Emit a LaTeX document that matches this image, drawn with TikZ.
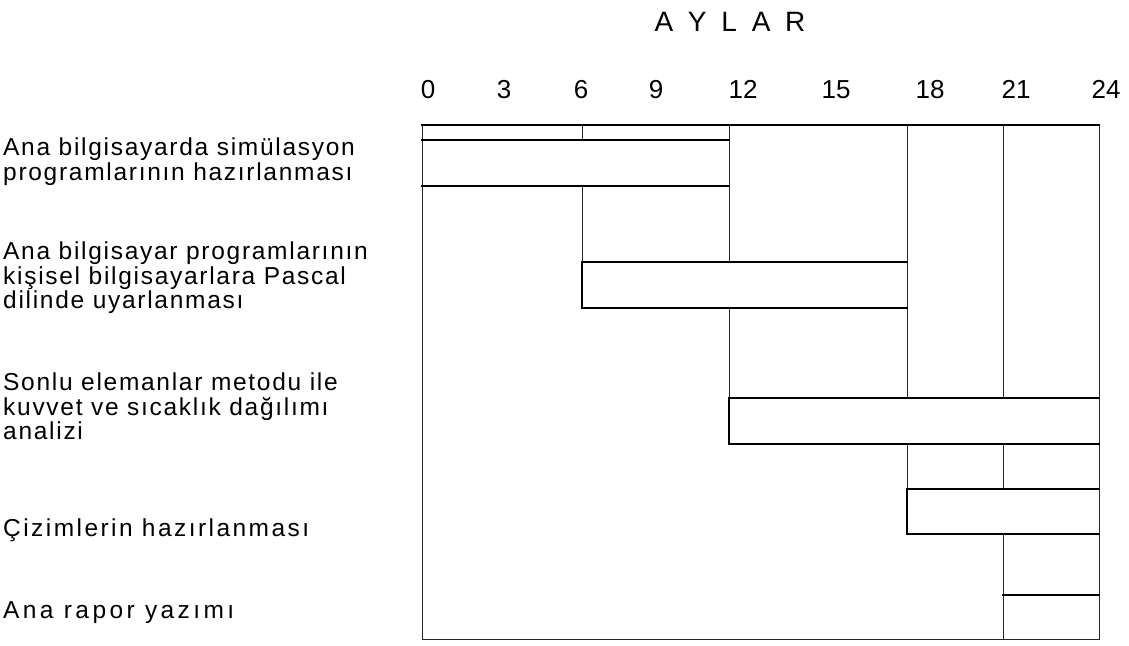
\documentclass[tikz,border=0pt]{standalone}
\usepackage{fontspec}
\setmainfont{Liberation Sans}
\newfontfamily\lblfam[LetterSpace=7]{Liberation Sans}
\newfontfamily\lblwide[LetterSpace=10]{Liberation Sans}
\newfontfamily\lblwider[LetterSpace=14]{Liberation Sans}
\newfontfamily\titlefam[LetterSpace=25]{Liberation Sans}
\begin{document}
\begin{tikzpicture}[x=1pt,y=-1pt,
  gridline/.style={line width=0.9pt, black!85},
  barh/.style={line width=2.2pt, line cap=rect},
  barv/.style={line width=1.1pt},
  lbl/.style={anchor=north west, inner sep=0pt, align=left,
    font=\lblfam\fontsize{24.5}{24.5}\selectfont},
  tick/.style={anchor=base, inner sep=0pt, font=\fontsize{26}{26}\selectfont},
  title/.style={anchor=base, inner sep=0pt, font=\titlefam\fontsize{28}{28}\selectfont}]
\useasboundingbox (0,0) rectangle (1129,645);
% title and month labels
\node[title] (aylar) at (730,31) {A Y L A R};
\foreach \m/\x in {0/428,3/504,6/581,9/656,12/743,15/836,18/930,21/1016,24/1106}
  \node[tick] (t\m) at (\x,98) {\m};
% frame
\coordinate (tl) at (422,125);
\coordinate (tr) at (1099,125);
\coordinate (bl) at (422,639);
\coordinate (br) at (1099,639);
\draw[gridline] (tl) -- (bl) -- (br) -- (tr);
\draw[barh] (tl) -- (tr);
% grid verticals (broken behind bars)
\draw[gridline] (582,125) -- (582,140);
\draw[gridline] (582,186) -- (582,308);
\draw[gridline] (729,125) -- (729,262) (729,308) -- (729,444);
\draw[gridline] (907,125) -- (907,398) (907,444) -- (907,534);
\draw[gridline] (1003,125) -- (1003,398) (1003,444) -- (1003,489) (1003,534) -- (1003,639);
% bars
\draw[barh] (422,140) -- (729,140) (422,186) -- (729,186);
\draw[barh] (582,262) -- (907,262) (582,308) -- (907,308);
\draw[barh] (729,398) -- (1099,398) (729,444) -- (1099,444);
\draw[barh] (907,489) -- (1099,489) (907,534) -- (1099,534);
\draw[barh] (1003,595) -- (1099,595);
\draw[barv] (729,398) -- (729,444) (907,489) -- (907,534) (582,262) -- (582,308);
% labels
\node[lbl] (l1) at (3,138) {Ana bilgisayarda simülasyon\\programlarının hazırlanması};
\node[lbl] (l2) at (3,242) {Ana bilgisayar programlarının\\kişisel bilgisayarlara Pascal\\dilinde uyarlanması};
\node[lbl] (l3) at (3,373) {Sonlu elemanlar metodu ile\\kuvvet ve sıcaklık dağılımı\\analizi};
\node[lbl, font=\lblwide\fontsize{24.5}{24.5}\selectfont] (l4) at (3,519) {Çizimlerin hazırlanması};
\node[lbl, font=\lblwider\fontsize{24.5}{24.5}\selectfont] (l5) at (3,601) {Ana rapor yazımı};
\end{tikzpicture}
\end{document}
